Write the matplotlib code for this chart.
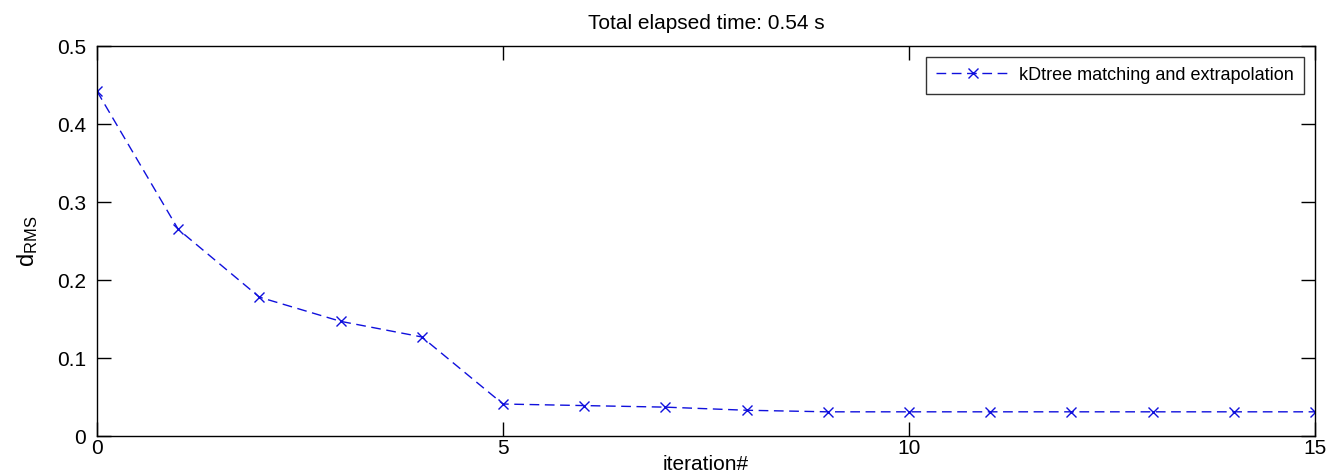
import matplotlib
matplotlib.use("Agg")
import matplotlib.pyplot as plt

iterations = list(range(16))
d_rms = [0.442, 0.265, 0.178, 0.147, 0.127, 0.041, 0.039, 0.037,
         0.033, 0.031, 0.031, 0.031, 0.031, 0.031, 0.031, 0.031]
xticks = [0, 5, 10, 15]
yticks = [0, 0.1, 0.2, 0.3, 0.4, 0.5]
legend_label = "kDtree matching and extrapolation"
title = "Total elapsed time: 0.54 s"

plt.rcParams['font.family'] = ['Liberation Sans', 'DejaVu Sans']
plt.rcParams['mathtext.fontset'] = 'custom'
plt.rcParams['mathtext.rm'] = 'Liberation Sans'

fig = plt.figure(figsize=(13.32, 4.76), dpi=100)
ax = fig.add_axes([97/1332, 1 - 436/476, (1315-97)/1332, (436-46)/476])

ax.plot(iterations, d_rms, linestyle=(0, (7, 4)), color='#1010dd', lw=1.0,
        marker='x', markersize=7, markeredgewidth=1.0, label=legend_label)

ax.set_xlim(0, 15)
ax.set_ylim(0, 0.5)
ax.set_xticks(xticks)
ax.set_yticks(yticks)
ax.set_xticklabels([str(v) for v in xticks])
ax.set_yticklabels(['0', '0.1', '0.2', '0.3', '0.4', '0.5'])
ax.tick_params(direction='in', length=10, width=1, top=True, right=True,
               labelsize=15, colors='black')
ax.tick_params(axis='y', pad=8)
ax.tick_params(axis='x', pad=2)
for s in ax.spines.values():
    s.set_linewidth(1.0)
    s.set_color('black')

ax.set_title(title, fontsize=15, pad=12)
ax.set_xlabel('iteration#', fontsize=15, labelpad=-2)
ax.set_ylabel(r'$\mathregular{d_{RMS}}$', fontsize=17, labelpad=12)

leg = ax.legend(loc='upper right', fontsize=13, frameon=True, fancybox=False,
                edgecolor='black', handlelength=4.2, handletextpad=0.45,
                borderaxespad=0.6, borderpad=0.55)
leg.get_frame().set_linewidth(1.0)

fig.savefig('out.png', dpi=100, facecolor='white')
